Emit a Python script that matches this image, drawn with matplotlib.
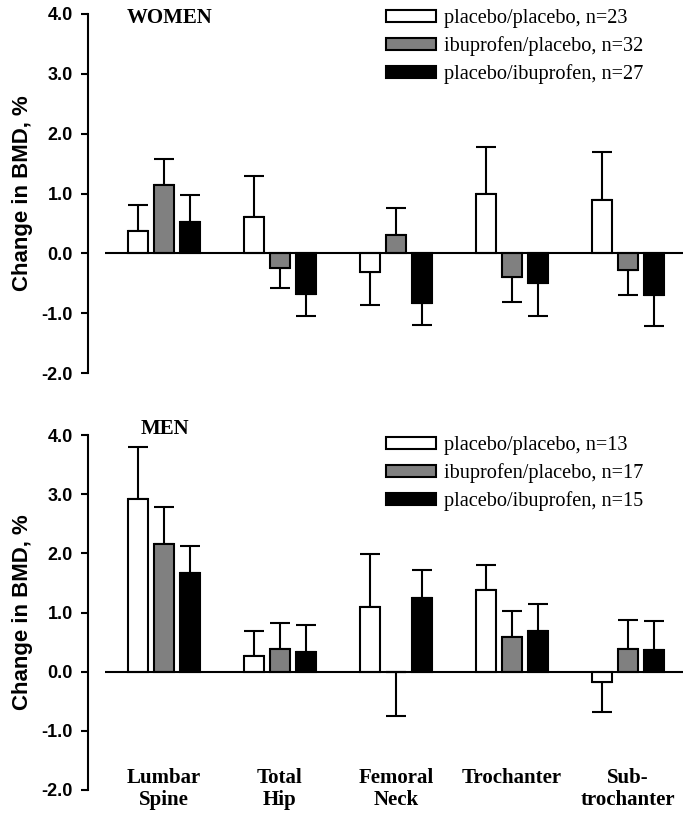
import numpy as np
import matplotlib
matplotlib.use("Agg")
import matplotlib.pyplot as plt

# sites along the x axis
sites = ["Lumbar\nSpine", "Total\nHip", "Femoral\nNeck", "Trochanter", "Sub-\ntrochanter"]

# women: mean change in BMD (%) and SE per group
women_pp = [0.38, 0.61, -0.31, 0.99, 0.89]
women_pp_se = [0.43, 0.68, 0.56, 0.78, 0.81]
women_ip = [1.14, -0.25, 0.30, -0.39, -0.28]
women_ip_se = [0.43, 0.33, 0.45, 0.43, 0.42]
women_pi = [0.53, -0.68, -0.83, -0.49, -0.70]
women_pi_se = [0.44, 0.36, 0.36, 0.55, 0.52]
women_labels = ["placebo/placebo, n=23", "ibuprofen/placebo, n=32",
                "placebo/ibuprofen, n=27"]

# men
men_pp = [2.92, 0.27, 1.09, 1.38, -0.17]
men_pp_se = [0.88, 0.42, 0.90, 0.43, 0.52]
men_ip = [2.15, 0.39, -0.01, 0.59, 0.39]
men_ip_se = [0.63, 0.44, 0.74, 0.44, 0.49]
men_pi = [1.67, 0.33, 1.24, 0.68, 0.37]
men_pi_se = [0.46, 0.46, 0.48, 0.47, 0.48]
men_labels = ["placebo/placebo, n=13", "ibuprofen/placebo, n=17",
              "placebo/ibuprofen, n=15"]

colors = ["white", "#808080", "black"]
SANS = "Liberation Sans"
SERIF = "Liberation Serif"

W, H = 685, 815
fig = plt.figure(figsize=(W / 100, H / 100), dpi=100)


def px_ax(left, right, top, bottom):
    return fig.add_axes([left / W, 1 - bottom / H, (right - left) / W, (bottom - top) / H])


def draw_panel(ax, series, errs, labels, title, title_xy, leg_anchor, show_sites):
    x = np.arange(len(sites))
    width = 0.17
    offsets = [-0.224, 0.0, 0.224]
    handles = []
    for vals, se, col, off in zip(series, errs, colors, offsets):
        vals = np.array(vals)
        se = np.array(se)
        up = np.where(vals >= 0, se, 0)
        down = np.where(vals < 0, se, 0)
        ax.errorbar(x + off, vals, yerr=[down, up], fmt="none", ecolor="black",
                    elinewidth=1.5, capsize=7, capthick=1.5, zorder=1)
        b = ax.bar(x + off, vals, width, color=col, edgecolor="black",
                   linewidth=1.5, zorder=2)
        handles.append(b)

    ax.hlines(0, -0.51, 4.5, color="black", linewidth=1.5, zorder=3)
    ax.set_xlim(-0.655, 4.474)
    ax.set_ylim(-2, 4)
    ax.set_yticks(np.arange(-2, 4.1, 1))
    ax.set_yticklabels([f"{v:.1f}" for v in np.arange(-2, 4.1, 1)],
                       fontfamily=SANS, fontweight="bold", fontsize=13)
    ax.tick_params(axis="y", direction="out", length=5, width=1.5, pad=6)
    ax.set_xticks([])
    for s in ["top", "right", "bottom"]:
        ax.spines[s].set_visible(False)
    ax.spines["left"].set_linewidth(1.5)
    ax.set_ylabel("Change in BMD, %", fontfamily=SANS, fontweight="bold",
                  fontsize=16, labelpad=6)

    ax.text(title_xy[0] / W, 1 - title_xy[1] / H, title, transform=fig.transFigure,
            fontfamily=SERIF, fontweight="bold", fontsize=15, ha="left", va="center")

    ax.legend(handles, labels, loc="upper left",
              bbox_to_anchor=(leg_anchor[0] / W, 1 - leg_anchor[1] / H),
              bbox_transform=fig.transFigure, frameon=False,
              prop={"family": SERIF, "size": 14.6}, handlelength=2.45,
              handleheight=0.5, handletextpad=0.4, labelspacing=0.4,
              borderpad=0, borderaxespad=0)

    if show_sites:
        for xi, name in zip(x, sites):
            ax.text(xi, -1.63, name, ha="center", va="top", fontfamily=SERIF,
                    fontweight="bold", fontsize=15, linespacing=1.15,
                    clip_on=False)


ax1 = px_ax(88, 683, 14, 373)
draw_panel(ax1, [women_pp, women_ip, women_pi],
           [women_pp_se, women_ip_se, women_pi_se], women_labels,
           "WOMEN", (127, 18), (386, 9), False)

ax2 = px_ax(88, 683, 435, 790)
draw_panel(ax2, [men_pp, men_ip, men_pi],
           [men_pp_se, men_ip_se, men_pi_se], men_labels,
           "MEN", (141, 429), (386, 436), True)

fig.savefig("out.png", dpi=100)
